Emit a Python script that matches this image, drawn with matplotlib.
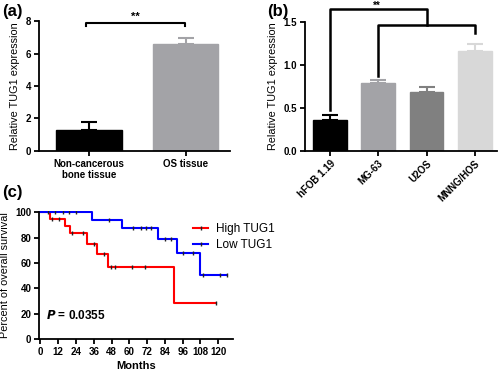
import matplotlib
matplotlib.use("Agg")
import matplotlib.pyplot as plt
import numpy as np

plt.rcParams['font.family'] = ['Liberation Sans', 'DejaVu Sans']
plt.rcParams['axes.linewidth'] = 1.3

# panel (a)
tissue = ["Non-cancerous\nbone tissue", "OS tissue"]
tissue_mean = [1.28, 6.56]
tissue_err = [0.50, 0.42]
tissue_col = ["#000000", "#a3a3a7"]

# panel (b)
cells = ["hFOB 1.19", "MG-63", "U2OS", "MNNG/HOS"]
cell_mean = [0.36, 0.785, 0.69, 1.165]
cell_err = [0.06, 0.045, 0.05, 0.075]
cell_col = ["#000000", "#a3a3a7", "#808080", "#d8d8d8"]

# panel (c) Kaplan-Meier
high_t = [0, 6.7, 16.8, 19.7, 31.4, 38.3, 45.5, 90.4, 118.4]
high_s = [100, 94.4, 88.9, 83.3, 75.0, 66.7, 57.1, 28.6, 28.6]
high_cens = [8, 12.5, 21, 29, 36, 42.8, 47.3, 50, 62, 70.6, 118.4]
low_t = [0, 35, 55, 79.4, 92, 108, 126]
low_s = [100, 94.1, 87.5, 78.8, 67.5, 50.6, 50.6]
low_cens = [5, 10, 15, 19, 24, 46, 62.8, 68, 71, 74.7, 84.3, 88, 96.4, 102.7, 110, 121, 126]

fig = plt.figure(figsize=(5, 3.7), dpi=100)

def style(ax):
    ax.spines['top'].set_visible(False)
    ax.spines['right'].set_visible(False)
    ax.tick_params(direction='out', width=1.3, length=3.5, labelsize=7, pad=2)
    for t in ax.get_xticklabels() + ax.get_yticklabels():
        t.set_fontweight('bold')

# ---- (a)
ax1 = fig.add_axes([0.078, 0.592, 0.382, 0.351])
x1 = np.arange(len(tissue))
ax1.bar(x1, tissue_mean, width=0.68, color=tissue_col, edgecolor=tissue_col, linewidth=1)
for i in range(len(tissue)):
    ax1.errorbar(x1[i], tissue_mean[i], yerr=[[0], [tissue_err[i]]], color=tissue_col[i],
                 capsize=6, elinewidth=1.5, capthick=1.5)
ax1.set_xlim(-0.52, 1.46)
ax1.set_ylim(0, 8)
ax1.set_yticks([0, 2, 4, 6, 8])
ax1.set_xticks(x1)
ax1.set_xticklabels(tissue)
ax1.set_ylabel("Relative TUG1 expression", fontsize=7.8, labelpad=4)
style(ax1)
ax1.plot([-0.03, -0.03, 0.99, 0.99], [7.7, 7.88, 7.88, 7.7], color='k', lw=1.5, clip_on=False)
ax1.text(0.48, 7.95, "**", ha='center', va='bottom', fontsize=8, fontweight='bold')
fig.text(0.005, 0.99, "(a)", fontsize=12, fontweight='bold', va='top')

# ---- (b)
ax2 = fig.add_axes([0.61, 0.592, 0.384, 0.3485])
x2 = np.arange(len(cells))
ax2.bar(x2, cell_mean, width=0.70, color=cell_col, edgecolor=cell_col, linewidth=1)
for i in range(len(cells)):
    ax2.errorbar(x2[i], cell_mean[i], yerr=[[0], [cell_err[i]]], color=cell_col[i],
                 capsize=6, elinewidth=1.5, capthick=1.5)
ax2.set_xlim(-0.52, 3.46)
ax2.set_ylim(0, 1.5)
ax2.set_yticks([0, 0.5, 1.0, 1.5])
ax2.set_yticklabels(["0.0", "0.5", "1.0", "1.5"])
ax2.set_xticks(x2)
ax2.set_xticklabels(cells, rotation=45, ha='right', rotation_mode='anchor')
ax2.set_ylabel("Relative TUG1 expression", fontsize=7.8, labelpad=4)
style(ax2)
ax2.plot([0, 0, 2.0, 2.0], [0.48, 1.65, 1.65, 1.46], color='k', lw=1.8, clip_on=False)
ax2.plot([1, 1, 3, 3], [0.87, 1.46, 1.46, 1.37], color='k', lw=1.8, clip_on=False)
ax2.text(0.97, 1.635, "**", ha='center', va='bottom', fontsize=7, fontweight='bold')
fig.text(0.535, 0.99, "(b)", fontsize=12, fontweight='bold', va='top')

# ---- (c)
ax3 = fig.add_axes([0.078, 0.084, 0.388, 0.346])

def km(ax, t, s, cens, col, lab):
    ax.step(t, s, where='post', color=col, lw=1.5, label=lab)
    idx = np.searchsorted(t, cens, side='right') - 1
    ax.plot(cens, np.array(s)[idx], ls='none', marker='|', ms=3.5, mew=1, color='#222222')

km(ax3, high_t, high_s, high_cens, '#ff0000', "High TUG1")
km(ax3, low_t, low_s, low_cens, '#0000ff', "Low TUG1")
ax3.set_xlim(-1, 130)
ax3.set_ylim(0, 101)
ax3.set_xticks(np.arange(0, 121, 12))
ax3.set_yticks(np.arange(0, 101, 20))
ax3.set_xlabel("Months", fontsize=8, fontweight='bold', labelpad=3)
ax3.set_ylabel("Percent of overall survival", fontsize=7.8, labelpad=4)
style(ax3)
ax3.spines['left'].set_bounds(0, 100)
h1 = plt.Line2D([], [], color='#ff0000', lw=1.5, marker='|', ms=3.5, mec='#222222')
h2 = plt.Line2D([], [], color='#0000ff', lw=1.5, marker='|', ms=3.5, mec='#222222')
fig.legend([h1, h2], ["High TUG1", "Low TUG1"], loc='upper left', bbox_to_anchor=(0.365, 0.425),
           frameon=False, fontsize=8.5, handlelength=1.3, handletextpad=0.6, labelspacing=0.3)
ax3.text(4, 16, r"$\bfit{P}$" + " = 0.0355", fontsize=8.5, fontweight='bold')
fig.text(0.005, 0.5, "(c)", fontsize=12, fontweight='bold', va='top')

fig.savefig("out.png", dpi=100)
